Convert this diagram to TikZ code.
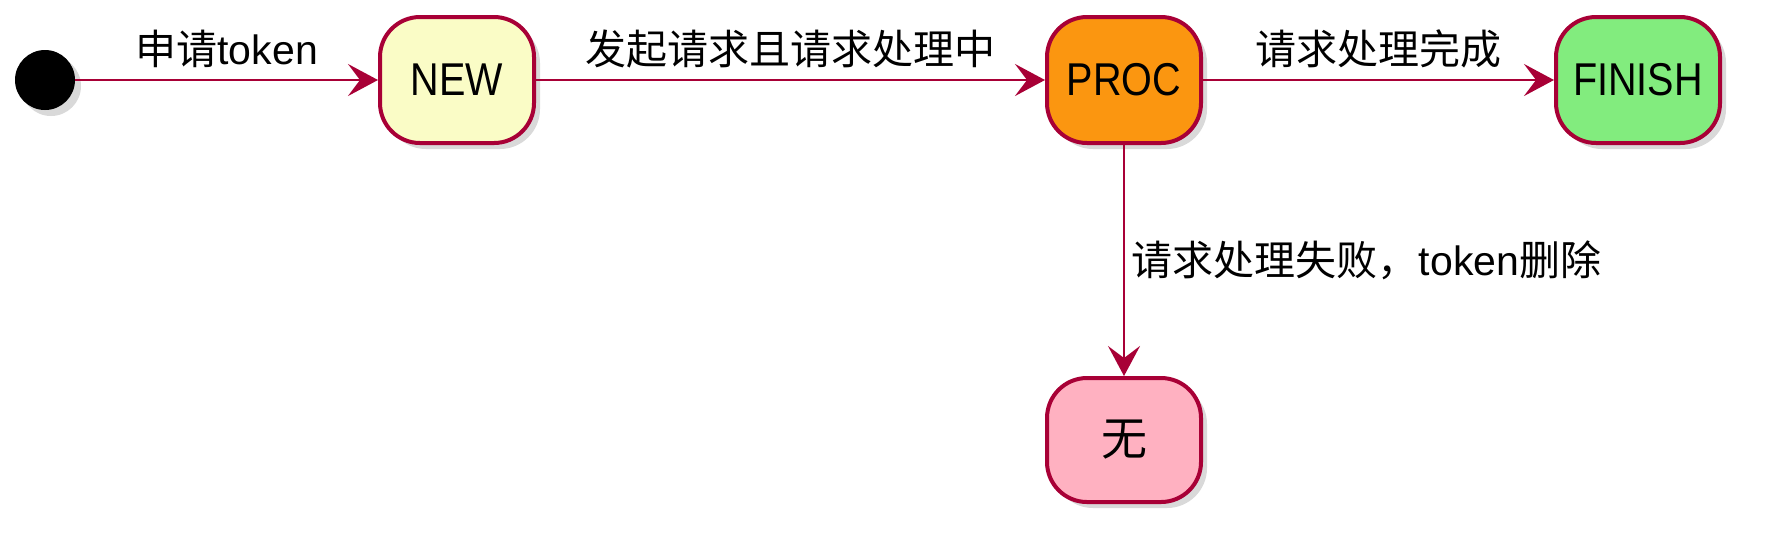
\documentclass[tikz,border=0pt]{standalone}
\usepackage{fontspec}
\setmainfont{Liberation Sans}
\newfontfamily\cjk{Noto Sans CJK SC}
\newfontfamily\statefont[FakeStretch=0.86]{Liberation Sans}
\usetikzlibrary{arrows.meta, positioning, shadows}

\definecolor{umlred}{HTML}{A80036}
\definecolor{newfill}{HTML}{FAFCC6}
\definecolor{procfill}{HTML}{FB9610}
\definecolor{finishfill}{HTML}{82EC7E}
\definecolor{nonefill}{HTML}{FFB1C1}

\tikzset{
    statebox/.style={draw=umlred, line width=2pt, rounded corners=20pt,
        minimum width=77pt, minimum height=63pt, inner sep=2pt,
        font=\statefont\fontsize{23}{28}\selectfont,
        drop shadow={shadow xshift=3pt, shadow yshift=-3pt, opacity=0.3}},
    trans/.style={draw=umlred, line width=1.2pt,
        -{Stealth[length=15pt, width=16pt, inset=6pt]}},
    translabel/.style={font=\fontsize{20.5}{24}\selectfont}
}

\begin{document}
\begin{tikzpicture}[x=0.5pt, y=-0.5pt]
    \useasboundingbox (0,0) rectangle (1770,548);

    % states
    \node[circle, fill=black, minimum size=30pt, inner sep=0pt,
          drop shadow={shadow xshift=3pt, shadow yshift=-3pt, opacity=0.3}] (start) at (45,80) {};
    \node[statebox, fill=newfill] (new) at (457,80) {NEW};
    \node[statebox, fill=procfill] (proc) at (1124,80) {PROC};
    \node[statebox, fill=finishfill, minimum width=82pt] (finish) at (1638,80) {FINISH};
    \node[statebox, fill=nonefill, minimum height=62pt] (none) at (1124,440) {\cjk 无};

    % transitions
    \draw[trans] (start) -- node[translabel, above=2pt] {{\cjk 申请}token} (new);
    \draw[trans] (new) -- node[translabel, above=2pt] {\cjk 发起请求且请求处理中} (proc);
    \draw[trans] (proc) -- node[translabel, above=2pt] {\cjk 请求处理完成} (finish);
    \draw[trans] (proc) -- node[translabel, right=0pt] {{\cjk 请求处理失败，}token{\cjk 删除}} (none);
\end{tikzpicture}
\end{document}
